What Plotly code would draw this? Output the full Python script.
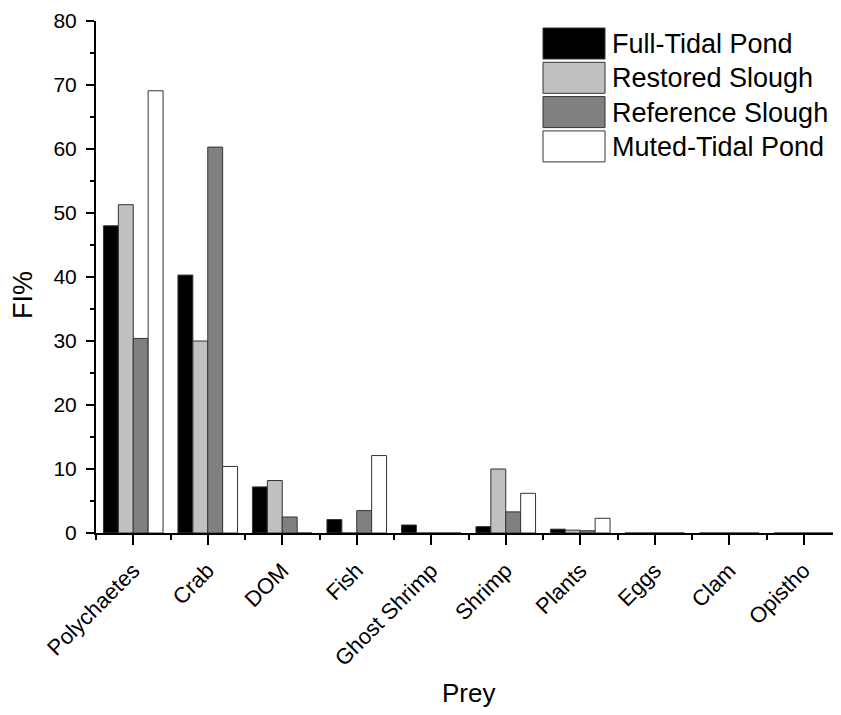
import plotly.graph_objects as go

categories = ["Polychaetes", "Crab", "DOM", "Fish", "Ghost Shrimp", "Shrimp", "Plants", "Eggs", "Clam", "Opistho"]
series_names = ["Full-Tidal Pond", "Restored Slough", "Reference Slough", "Muted-Tidal Pond"]
full_tidal = [48.0, 40.3, 7.2, 2.1, 1.25, 1.0, 0.6, 0, 0, 0]
restored = [51.3, 30.0, 8.2, 0, 0, 10.0, 0.45, 0, 0, 0]
reference = [30.4, 60.3, 2.5, 3.5, 0, 3.3, 0.35, 0, 0, 0]
muted = [69.1, 10.4, 0, 12.1, 0, 6.2, 2.3, 0, 0, 0]
y_ticks = [0, 10, 20, 30, 40, 50, 60, 70, 80]
x_title = "Prey"
y_title = "FI%"

colors = ["#000000", "#c0c0c0", "#808080", "#ffffff"]
values = [full_tidal, restored, reference, muted]
xpos = list(range(len(categories)))

fig = go.Figure()
for name, vals, col in zip(series_names, values, colors):
    fig.add_trace(go.Bar(x=xpos, y=vals, name=name, marker=dict(color=col, line=dict(color="#333333", width=1)),
                         showlegend=False))

font = "Liberation Sans, Arial, sans-serif"
# page has an 8px body margin: plot area spans page px x 96..841, y 21..533
W, H = 833, 707
L, T = 88, 13
PW, PH = W - L, 512
fig.update_layout(
    width=W, height=H,
    margin=dict(l=L, r=0, t=T, b=H - T - PH, autoexpand=False),
    paper_bgcolor="white", plot_bgcolor="white",
    barmode="group", bargap=0.2, bargroupgap=0,
    font=dict(family=font, color="black"),
    xaxis=dict(range=[-0.5, 9.5], tickvals=xpos, ticktext=categories, tickangle=-45,
               showline=True, linecolor="black", linewidth=2, showgrid=False, zeroline=False,
               ticks="outside", ticklen=10, tickwidth=2, tickcolor="black",
               tickfont=dict(size=22, family=font), automargin=False, ticklabelstandoff=4,
               minor=dict(tickvals=[i - 0.5 for i in range(len(categories) + 1)], ticks="outside", ticklen=5, tickwidth=2, tickcolor="black")),
    yaxis=dict(range=[0, 80], tickvals=y_ticks, showline=True, linecolor="black", linewidth=2,
               showgrid=False, zeroline=False, ticks="outside", ticklen=8, tickwidth=2, tickcolor="black",
               tickfont=dict(size=21, family=font), automargin=False, ticklabelstandoff=5,
               minor=dict(dtick=5, ticks="outside", ticklen=4, tickwidth=2, tickcolor="black")),
)

# page px -> paper coords
def px(xp):
    return (xp - 8 - L) / PW

def py(yp):
    return (T + 8 + PH - yp) / PH

# axis titles
fig.add_annotation(xref="paper", yref="paper", x=px(468), y=py(693), text=x_title, showarrow=False,
                   xanchor="center", yanchor="middle", font=dict(size=26, family=font, color="black"))
fig.add_annotation(xref="paper", yref="paper", x=px(23), y=py(295), text=y_title, showarrow=False, textangle=-90,
                   xanchor="center", yanchor="middle", font=dict(size=27, family=font, color="black"))

# Legend drawn manually (large swatches like the original)
for i, (name, col) in enumerate(zip(series_names, colors)):
    y0 = 28 + i * 34.3
    fig.add_shape(type="rect", xref="paper", yref="paper",
                  x0=px(543), x1=px(605), y0=py(y0 + 31), y1=py(y0),
                  fillcolor=col, line=dict(color="#333333", width=1))
    fig.add_annotation(xref="paper", yref="paper", x=px(610), y=py(y0 + 16),
                       text=name, showarrow=False, xanchor="left", yanchor="middle",
                       font=dict(size=27, family=font, color="black"))

fig.write_html("out.html")
